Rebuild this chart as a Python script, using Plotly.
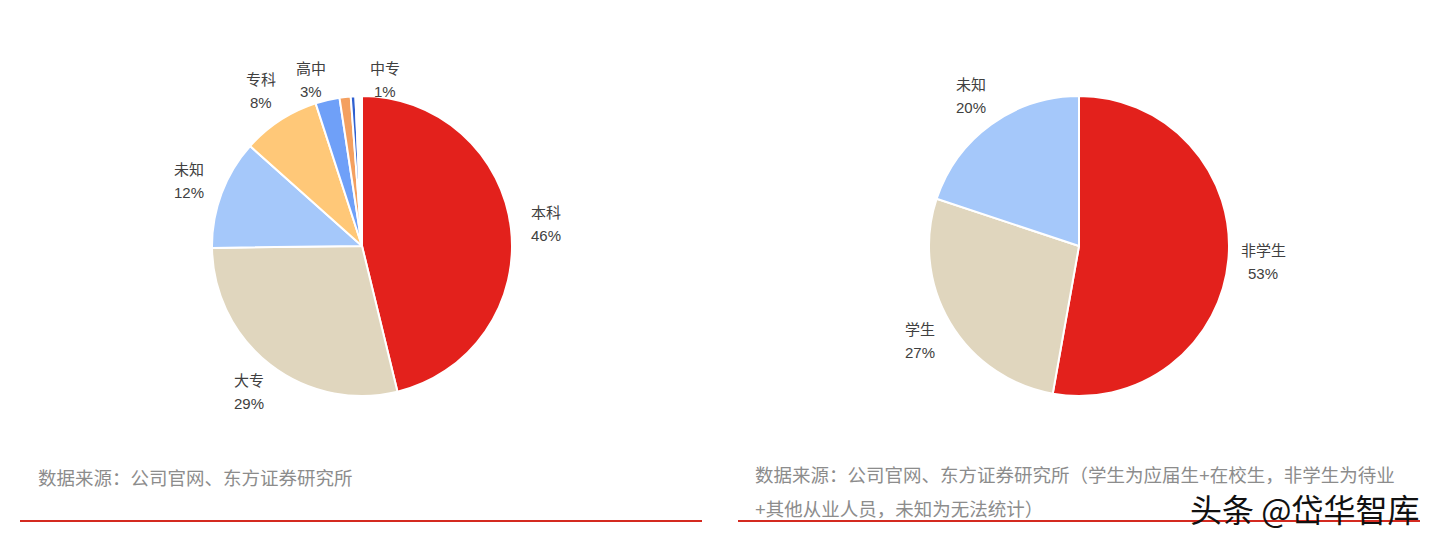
import math
import plotly.graph_objects as go

# Left pie: education
edu_labels = ["本科", "大专", "未知", "专科", "高中", "中专", "初中", "其他"]
edu_values = [46.2, 28.6, 11.8, 8.4, 2.6, 1.2, 0.5, 0.7]
edu_colors = ["#E3211C", "#E0D6BE", "#A5C8FA", "#FFC878", "#6FA0F8", "#F4A060", "#3060D0", "#FFFFFF"]
edu_show = [True, True, True, True, True, True, False, False]

# Right pie: student status
stu_labels = ["非学生", "学生", "未知"]
stu_values = [52.8, 27.3, 19.9]
stu_colors = ["#E3211C", "#E0D6BE", "#A5C8FA"]
stu_show = [True, True, True]

FONT = "Liberation Sans, Noto Sans CJK SC, sans-serif"
OFF = 8                       # page body margin
W, H = 1438 - 2 * OFF, 538 - 2 * OFF
R = 150
LEFT_C = (362 - OFF, 246 - OFF)
RIGHT_C = (1079 - OFF, 246 - OFF)


def px(x):
    return x / W


def py(y):
    return 1 - y / H


fig = go.Figure()
annotations = []


def add_pie(labels, values, colors, show, center):
    cx, cy = center
    fig.add_trace(go.Pie(
        labels=labels, values=values, sort=False, direction="clockwise", rotation=0,
        marker=dict(colors=colors, line=dict(color="white", width=2)),
        textinfo="none",
        domain=dict(x=[px(cx - R), px(cx + R)], y=[py(cy + R), py(cy - R)]),
        showlegend=False, hoverinfo="label+percent",
    ))
    total = sum(values)
    cum = 0.0
    prev_top_x = None
    top_row = cy - R - 16
    for lab, v, s in zip(labels, values, show):
        mid = (cum + v / 2) / total * 2 * math.pi
        cum += v
        if not s:
            continue
        r = R + 35
        lx = cx + r * math.sin(mid)
        ly = cy - r * math.cos(mid)
        if ly < top_row:
            ly = top_row
            lx -= 8
            if prev_top_x is not None and lx < prev_top_x + 74:
                lx = prev_top_x + 74
            prev_top_x = lx
        pct = f"{round(v / total * 100)}%"
        for txt, dy in ((lab, -11.5), (pct, 11.5)):
            annotations.append(dict(
                text=txt, x=px(lx), y=py(ly + dy), xanchor="center", yanchor="middle",
                showarrow=False, font=dict(size=15, color="#404040", family=FONT)))


add_pie(edu_labels, edu_values, edu_colors, edu_show, LEFT_C)
add_pie(stu_labels, stu_values, stu_colors, stu_show, RIGHT_C)

note_font = dict(size=18.5, color="#8C8C8C", family=FONT)
annotations += [
    dict(text="数据来源：公司官网、东方证券研究所", x=px(36 - OFF), y=py(478 - OFF),
         xanchor="left", yanchor="middle", showarrow=False, font=note_font),
    dict(text="数据来源：公司官网、东方证券研究所（学生为应届生+在校生，非学生为待业", x=px(753 - OFF), y=py(475 - OFF),
         xanchor="left", yanchor="middle", showarrow=False, font=note_font),
    dict(text="+其他从业人员，未知为无法统计）", x=px(753 - OFF), y=py(509 - OFF),
         xanchor="left", yanchor="middle", showarrow=False, font=note_font),
    dict(text="头条 @岱华智库", x=px(1421 - OFF), y=py(508 - OFF),
         xanchor="right", yanchor="middle", showarrow=False,
         font=dict(size=32, color="#111111", family="Noto Sans CJK SC")),
]

shapes = [
    dict(type="line", xref="paper", yref="paper", x0=px(20 - OFF), x1=px(702 - OFF),
         y0=py(521 - OFF), y1=py(521 - OFF), line=dict(color="#D42A20", width=2)),
    dict(type="line", xref="paper", yref="paper", x0=px(738 - OFF), x1=px(1420 - OFF),
         y0=py(521 - OFF), y1=py(521 - OFF), line=dict(color="#D42A20", width=2)),
]

fig.update_layout(
    width=W, height=H, margin=dict(l=0, r=0, t=0, b=0),
    paper_bgcolor="white", plot_bgcolor="white",
    annotations=annotations, shapes=shapes,
    font=dict(family=FONT),
)

fig.write_html("out.html")
